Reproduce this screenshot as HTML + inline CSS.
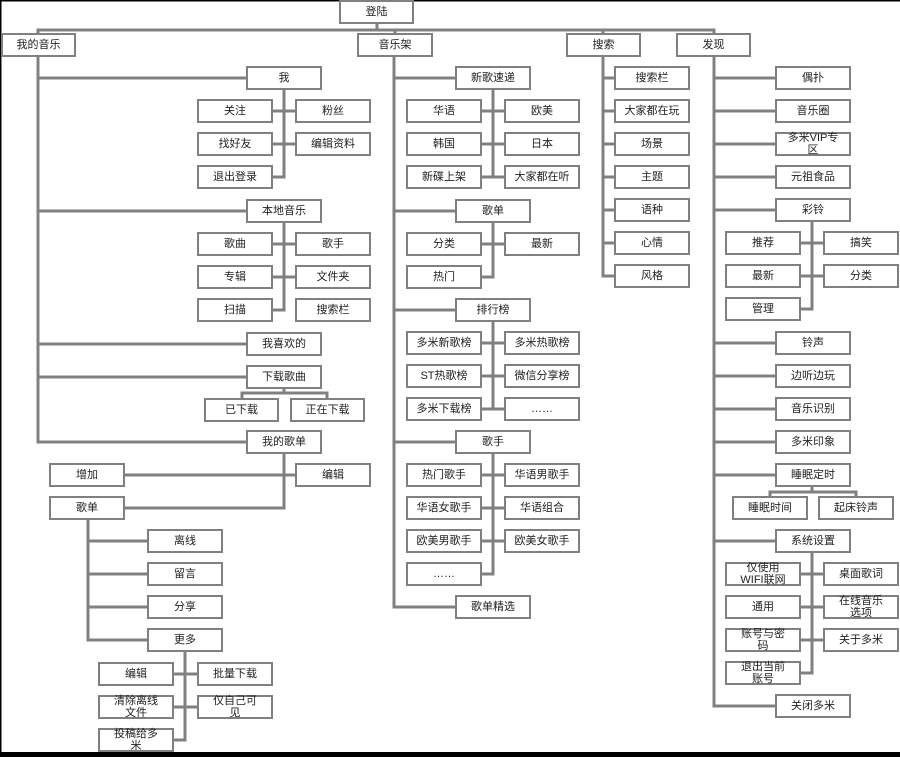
<!DOCTYPE html>
<html><head><meta charset="utf-8">
<style>
html,body{margin:0;padding:0;background:#fff;}
svg{display:block;}
text{font-family:"Liberation Sans","Noto Sans CJK SC",sans-serif;font-size:11px;fill:#222;text-anchor:middle;dominant-baseline:central;}
rect{fill:#fff;stroke:#808080;stroke-width:2;}
path{fill:none;stroke:#808080;stroke-width:3;}
</style></head>
<body>
<svg width="900" height="757" viewBox="0 0 900 757" xmlns="http://www.w3.org/2000/svg">
<rect x="0" y="0" width="900" height="757" style="fill:#fff;stroke:none"/>
<path d="M0.5 0 V757 M0 0.5 H900" style="stroke:#000;stroke-width:2"/>
<rect x="0" y="752" width="900" height="5" style="fill:#000;stroke:none"/>

<!-- connectors -->
<path d="M377 23 V30 M38 34 V30 H714 V34 M395 30 V34 M603 30 V34"/>
<!-- 我的音乐 -->
<path d="M38 56 V442 H247 M38 78 H247 M38 211 H247 M38 344 H247 M38 377 H247"/>
<path d="M284 89 V177 H272 M272 111 H296 M272 144 H296"/>
<path d="M284 222 V310 H272 M272 244 H296 M272 277 H296"/>
<path d="M284 388 V393 M242 399 V393 H327 V399"/>
<path d="M284 453 V508 H124 M124 475 H296"/>
<path d="M88 519 V640 H148 M88 541 H148 M88 574 H148 M88 607 H148"/>
<path d="M185 651 V740 H173 M173 674 H198 M173 707 H198"/>
<!-- 音乐架 -->
<path d="M394 56 V607 H456 M394 78 H456 M394 211 H456 M394 310 H456 M394 442 H456"/>
<path d="M493 89 V177 H481 M481 111 H505 M481 144 H505 M493 177 H505"/>
<path d="M493 222 V277 H481 M481 244 H505"/>
<path d="M493 321 V409 H481 M481 343 H505 M481 376 H505 M493 409 H505"/>
<path d="M493 453 V574 H481 M481 475 H505 M481 508 H505 M481 541 H505"/>
<!-- 搜索 -->
<path d="M603 56 V276 H615 M603 78 H615 M603 111 H615 M603 144 H615 M603 177 H615 M603 210 H615 M603 243 H615"/>
<!-- 发现 -->
<path d="M714 56 V706 H776 M714 78 H776 M714 111 H776 M714 144 H776 M714 177 H776 M714 210 H776 M714 343 H776 M714 376 H776 M714 409 H776 M714 442 H776 M714 475 H776 M714 541 H776"/>
<path d="M812 221 V309 H800 M800 243 H824 M800 276 H824"/>
<path d="M812 486 V492 M770 497 V492 H856 V497"/>
<path d="M812 552 V673 H800 M800 574 H824 M800 607 H824 M800 640 H824"/>

<!-- top -->
<rect x="340" y="1" width="73" height="22"/><text x="376.5" y="12">登陆</text>
<rect x="2" y="34" width="73" height="22"/><text x="38.5" y="45">我的音乐</text>
<rect x="358" y="34" width="74" height="22"/><text x="395" y="45">音乐架</text>
<rect x="567" y="34" width="73" height="22"/><text x="603.5" y="45">搜索</text>
<rect x="677" y="34" width="73" height="22"/><text x="713.5" y="45">发现</text>

<!-- 我的音乐 boxes -->
<rect x="247" y="67" width="74" height="22"/><text x="284" y="78">我</text>
<rect x="198" y="100" width="74" height="22"/><text x="235" y="111">关注</text>
<rect x="296" y="100" width="74" height="22"/><text x="333" y="111">粉丝</text>
<rect x="198" y="133" width="74" height="22"/><text x="235" y="144">找好友</text>
<rect x="296" y="133" width="74" height="22"/><text x="333" y="144">编辑资料</text>
<rect x="198" y="166" width="74" height="22"/><text x="235" y="177">退出登录</text>
<rect x="247" y="200" width="74" height="22"/><text x="284" y="211">本地音乐</text>
<rect x="198" y="233" width="74" height="22"/><text x="235" y="244">歌曲</text>
<rect x="296" y="233" width="74" height="22"/><text x="333" y="244">歌手</text>
<rect x="198" y="266" width="74" height="22"/><text x="235" y="277">专辑</text>
<rect x="296" y="266" width="74" height="22"/><text x="333" y="277">文件夹</text>
<rect x="198" y="299" width="74" height="22"/><text x="235" y="310">扫描</text>
<rect x="296" y="299" width="74" height="22"/><text x="333" y="310">搜索栏</text>
<rect x="247" y="333" width="74" height="22"/><text x="284" y="344">我喜欢的</text>
<rect x="247" y="366" width="74" height="22"/><text x="284" y="377">下载歌曲</text>
<rect x="205" y="399" width="73" height="22"/><text x="241.5" y="410">已下载</text>
<rect x="291" y="399" width="73" height="22"/><text x="327.5" y="410">正在下载</text>
<rect x="247" y="431" width="74" height="22"/><text x="284" y="442">我的歌单</text>
<rect x="50" y="464" width="74" height="22"/><text x="87" y="475">增加</text>
<rect x="296" y="464" width="74" height="22"/><text x="333" y="475">编辑</text>
<rect x="50" y="497" width="74" height="22"/><text x="87" y="508">歌单</text>
<rect x="148" y="530" width="74" height="22"/><text x="185" y="541">离线</text>
<rect x="148" y="563" width="74" height="22"/><text x="185" y="574">留言</text>
<rect x="148" y="596" width="74" height="22"/><text x="185" y="607">分享</text>
<rect x="148" y="629" width="74" height="22"/><text x="185" y="640">更多</text>
<rect x="99" y="663" width="74" height="22"/><text x="136" y="674">编辑</text>
<rect x="198" y="663" width="74" height="22"/><text x="235" y="674">批量下载</text>
<rect x="99" y="696" width="74" height="22"/><text x="136" y="701">清除离线</text><text x="136" y="713">文件</text>
<rect x="198" y="696" width="74" height="22"/><text x="235" y="701">仅自己可</text><text x="235" y="713">见</text>
<rect x="99" y="729" width="74" height="22"/><text x="136" y="734">投稿给多</text><text x="136" y="746">米</text>

<!-- 音乐架 boxes -->
<rect x="456" y="67" width="74" height="22"/><text x="493" y="78">新歌速递</text>
<rect x="407" y="100" width="74" height="22"/><text x="444" y="111">华语</text>
<rect x="505" y="100" width="74" height="22"/><text x="542" y="111">欧美</text>
<rect x="407" y="133" width="74" height="22"/><text x="444" y="144">韩国</text>
<rect x="505" y="133" width="74" height="22"/><text x="542" y="144">日本</text>
<rect x="407" y="166" width="74" height="22"/><text x="444" y="177">新碟上架</text>
<rect x="505" y="166" width="74" height="22"/><text x="542" y="177">大家都在听</text>
<rect x="456" y="200" width="74" height="22"/><text x="493" y="211">歌单</text>
<rect x="407" y="233" width="74" height="22"/><text x="444" y="244">分类</text>
<rect x="505" y="233" width="74" height="22"/><text x="542" y="244">最新</text>
<rect x="407" y="266" width="74" height="22"/><text x="444" y="277">热门</text>
<rect x="456" y="299" width="74" height="22"/><text x="493" y="310">排行榜</text>
<rect x="407" y="332" width="74" height="22"/><text x="444" y="343">多米新歌榜</text>
<rect x="505" y="332" width="74" height="22"/><text x="542" y="343">多米热歌榜</text>
<rect x="407" y="365" width="74" height="22"/><text x="444" y="376">ST热歌榜</text>
<rect x="505" y="365" width="74" height="22"/><text x="542" y="376">微信分享榜</text>
<rect x="407" y="398" width="74" height="22"/><text x="444" y="409">多米下载榜</text>
<rect x="505" y="398" width="74" height="22"/><text x="542" y="409">……</text>
<rect x="456" y="431" width="74" height="22"/><text x="493" y="442">歌手</text>
<rect x="407" y="464" width="74" height="22"/><text x="444" y="475">热门歌手</text>
<rect x="505" y="464" width="74" height="22"/><text x="542" y="475">华语男歌手</text>
<rect x="407" y="497" width="74" height="22"/><text x="444" y="508">华语女歌手</text>
<rect x="505" y="497" width="74" height="22"/><text x="542" y="508">华语组合</text>
<rect x="407" y="530" width="74" height="22"/><text x="444" y="541">欧美男歌手</text>
<rect x="505" y="530" width="74" height="22"/><text x="542" y="541">欧美女歌手</text>
<rect x="407" y="563" width="74" height="22"/><text x="444" y="574">……</text>
<rect x="456" y="596" width="74" height="22"/><text x="493" y="607">歌单精选</text>

<!-- 搜索 boxes -->
<rect x="615" y="67" width="74" height="22"/><text x="652" y="78">搜索栏</text>
<rect x="615" y="100" width="74" height="22"/><text x="652" y="111">大家都在玩</text>
<rect x="615" y="133" width="74" height="22"/><text x="652" y="144">场景</text>
<rect x="615" y="166" width="74" height="22"/><text x="652" y="177">主题</text>
<rect x="615" y="199" width="74" height="22"/><text x="652" y="210">语种</text>
<rect x="615" y="232" width="74" height="22"/><text x="652" y="243">心情</text>
<rect x="615" y="265" width="74" height="22"/><text x="652" y="276">风格</text>

<!-- 发现 boxes -->
<rect x="776" y="67" width="74" height="22"/><text x="813" y="78">偶扑</text>
<rect x="776" y="100" width="74" height="22"/><text x="813" y="111">音乐圈</text>
<rect x="776" y="133" width="74" height="22"/><text x="813" y="138">多米VIP专</text><text x="813" y="150">区</text>
<rect x="776" y="166" width="74" height="22"/><text x="813" y="177">元祖食品</text>
<rect x="776" y="199" width="74" height="22"/><text x="813" y="210">彩铃</text>
<rect x="726" y="232" width="74" height="22"/><text x="763" y="243">推荐</text>
<rect x="824" y="232" width="74" height="22"/><text x="861" y="243">搞笑</text>
<rect x="726" y="265" width="74" height="22"/><text x="763" y="276">最新</text>
<rect x="824" y="265" width="74" height="22"/><text x="861" y="276">分类</text>
<rect x="726" y="298" width="74" height="22"/><text x="763" y="309">管理</text>
<rect x="776" y="332" width="74" height="22"/><text x="813" y="343">铃声</text>
<rect x="776" y="365" width="74" height="22"/><text x="813" y="376">边听边玩</text>
<rect x="776" y="398" width="74" height="22"/><text x="813" y="409">音乐识别</text>
<rect x="776" y="431" width="74" height="22"/><text x="813" y="442">多米印象</text>
<rect x="776" y="464" width="74" height="22"/><text x="813" y="475">睡眠定时</text>
<rect x="733" y="497" width="74" height="22"/><text x="770" y="508">睡眠时间</text>
<rect x="819" y="497" width="74" height="22"/><text x="856" y="508">起床铃声</text>
<rect x="776" y="530" width="74" height="22"/><text x="813" y="541">系统设置</text>
<rect x="726" y="563" width="74" height="22"/><text x="763" y="568">仅使用</text><text x="763" y="580">WIFI联网</text>
<rect x="824" y="563" width="74" height="22"/><text x="861" y="574">桌面歌词</text>
<rect x="726" y="596" width="74" height="22"/><text x="763" y="607">通用</text>
<rect x="824" y="596" width="74" height="22"/><text x="861" y="601">在线音乐</text><text x="861" y="613">选项</text>
<rect x="726" y="629" width="74" height="22"/><text x="763" y="634">账号与密</text><text x="763" y="646">码</text>
<rect x="824" y="629" width="74" height="22"/><text x="861" y="640">关于多米</text>
<rect x="726" y="662" width="74" height="22"/><text x="763" y="667">退出当前</text><text x="763" y="679">账号</text>
<rect x="776" y="695" width="74" height="22"/><text x="813" y="706">关闭多米</text>
</svg>
</body></html>
